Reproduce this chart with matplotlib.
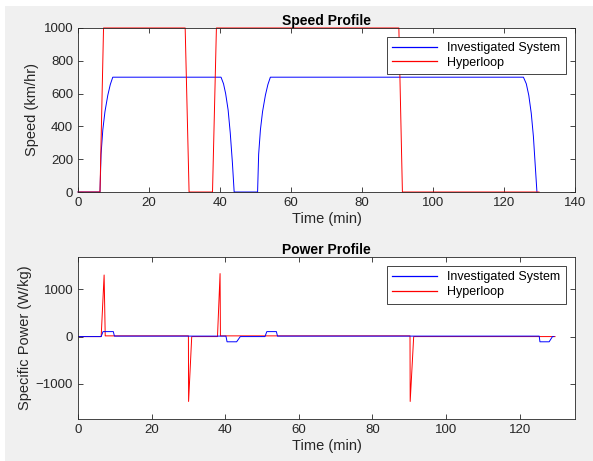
import matplotlib.pyplot as plt
from matplotlib.lines import Line2D
from matplotlib.patches import Rectangle

# Speed profile (km/hr) vs time (min)
inv_t = [0, 6.2, 6.5, 7.0, 7.6, 8.4, 9.1, 9.8, 40.3, 41.0, 41.6, 42.3, 42.9, 43.5, 44.0,
         50.6, 50.9, 51.4, 52.0, 52.8, 53.5, 54.2, 125.5, 126.3, 127.0, 127.7, 128.3, 128.8, 129.3]
inv_v = [0, 0, 230, 380, 490, 590, 655, 700, 700, 660, 600, 500, 360, 180, 0,
         0, 230, 380, 490, 590, 655, 700, 700, 660, 590, 480, 340, 170, 0]
hyp_t = [0, 6.2, 7.2, 30.2, 31.3, 37.9, 39.0, 90.4, 91.4, 129.9]
hyp_v = [0, 0, 1000, 1000, 0, 0, 1000, 1000, 0, 0]

# Power profile (W/kg) vs time (min)
inv_pt = [0, 6.3, 6.8, 9.6, 9.9, 40.2, 40.5, 43.1, 44.1, 50.8, 51.3, 53.9, 54.2,
          125.3, 125.5, 128.0, 128.9, 129.3]
inv_p = [0, 0, 105, 105, 10, 10, -110, -110, 0, 0, 105, 105, 10,
         10, -110, -110, 0, 0]
hyp_pt = [0, 6.3, 7.1, 7.4, 30.0, 30.05, 30.9, 37.9, 38.6, 38.7, 90.2, 90.25, 91.2, 129.6]
hyp_p = [0, 0, 1300, 15, 15, -1370, 0, 0, 1330, 15, 15, -1370, 0, 0]

labels = ['Investigated System', 'Hyperloop']

plt.rcParams['font.family'] = ['Liberation Sans', 'DejaVu Sans']
axcol = '#262626'

fig = plt.figure(figsize=(5.93, 4.61), dpi=100, facecolor='white')
fig.patches.append(Rectangle((5 / 593, 0), 1, 1 - 6 / 461, transform=fig.transFigure,
                             facecolor='#f0f0f0', edgecolor='none', zorder=-10))

ax1 = fig.add_axes([0.1315, 0.5835, 0.838, 0.3558])
ax2 = fig.add_axes([0.1315, 0.0911, 0.838, 0.3514])

for ax in (ax1, ax2):
    ax.set_facecolor('white')
    ax.tick_params(direction='in', top=True, right=True, labelsize=9.5, colors=axcol,
                   length=3.5, width=0.6)
    for s in ax.spines.values():
        s.set_color(axcol)
        s.set_linewidth(0.6)

ax1.plot(inv_t, inv_v, color='blue', lw=0.7, clip_on=False)
ax1.plot(hyp_t, hyp_v, color='red', lw=0.7, clip_on=False)
ax1.set_xlim(0, 140)
ax1.set_ylim(0, 1000)
ax1.set_xticks(range(0, 141, 20))
ax1.set_yticks(range(0, 1001, 200))
ax1.set_title('Speed Profile', fontsize=10, fontweight='bold', pad=2)
ax1.set_xlabel('Time (min)', fontsize=10.5, color=axcol, labelpad=2)
ax1.set_ylabel('Speed (km/hr)', fontsize=10.5, color=axcol, labelpad=3)

ax2.plot(hyp_pt, hyp_p, color='red', lw=0.7)
ax2.plot(inv_pt, inv_p, color='blue', lw=0.7)
ax2.set_xlim(0, 135)
ax2.set_ylim(-1740, 1680)
ax2.set_xticks(range(0, 121, 20))
ax2.set_yticks([-1000, 0, 1000])
ax2.set_title('Power Profile', fontsize=10, fontweight='bold', pad=2)
ax2.set_xlabel('Time (min)', fontsize=10.5, color=axcol, labelpad=2)
ax2.set_ylabel('Specific Power (W/kg)', fontsize=10.5, color=axcol, labelpad=3)

for ax in (ax1, ax2):
    handles = [Line2D([], [], color='blue', lw=0.9), Line2D([], [], color='red', lw=0.9)]
    leg = ax.legend(handles, labels, loc='upper right', fontsize=9, fancybox=False,
                    framealpha=1, edgecolor=axcol, handlelength=3.6, borderaxespad=0.7,
                    borderpad=0.45, labelspacing=0.2)
    leg.get_frame().set_linewidth(0.6)

fig.savefig('out.png', dpi=100, facecolor=fig.get_facecolor())
